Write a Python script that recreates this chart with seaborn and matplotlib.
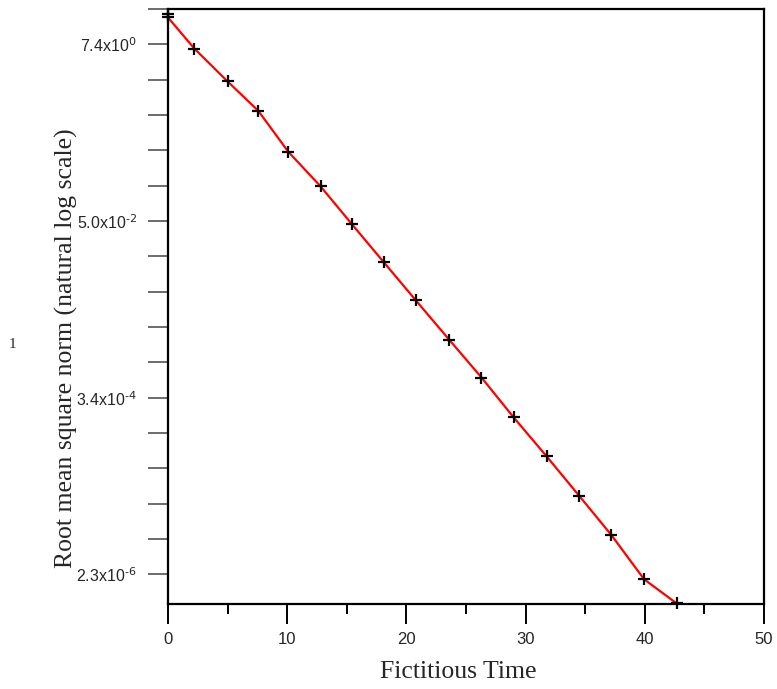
import numpy as np
import pandas as pd
import matplotlib
matplotlib.use("Agg")
import matplotlib.pyplot as plt
import seaborn as sns

# Data (y given as natural log of the norm)
time = [0.0, 0.0, 2.21, 5.0, 7.57, 10.09, 12.8, 15.4, 18.11, 20.8, 23.59,
        26.3, 29.0, 31.76, 34.5, 37.2, 39.94, 42.66]
ln_norm = [2.86, 2.76, 1.88, 0.95, 0.12, -1.04, -2.02, -3.08, -4.17, -5.25,
           -6.36, -7.43, -8.56, -9.66, -10.78, -11.89, -13.14, -13.82]
norm = list(np.exp(ln_norm))

ytick_powers = list(range(-13, 4))
ytick_labels = {2: r"7.4x10$^{\text{0}}$", -3: r"5.0x10$^{\text{-2}}$",
                -8: r"3.4x10$^{\text{-4}}$", -13: r"2.3x10$^{\text{-6}}$"}
xticks_major = [0, 10, 20, 30, 40, 50]
xticks_minor = [5, 15, 25, 35, 45]

sns.set_style("ticks")
plt.rcParams["font.family"] = ["Liberation Sans", "DejaVu Sans"]
plt.rcParams["mathtext.default"] = "regular"

W, H = 777, 689
fig = plt.figure(figsize=(W / 100, H / 100), dpi=100)
ax = fig.add_axes([168 / W, 1 - 604 / H, (764 - 168) / W, (604 - 9) / H])

df = pd.DataFrame({"t": time, "n": norm})
sns.lineplot(data=df, x="t", y="n", ax=ax, color="red", lw=1.6,
             estimator=None, sort=False, marker="+", markersize=9,
             markeredgecolor="black", markeredgewidth=1.6, zorder=3,
             clip_on=False)

ax.set_yscale("log", base=np.e)
ax.set_xlim(0, 50)
ax.set_ylim(np.exp(-13.84), np.exp(3.0))

ax.set_yticks([np.exp(k) for k in ytick_powers])
ax.set_yticklabels([ytick_labels.get(k, "") for k in ytick_powers])
ax.yaxis.set_minor_locator(matplotlib.ticker.NullLocator())
ax.set_xticks(xticks_major)
ax.set_xticks(xticks_minor, minor=True)

ax.tick_params(axis="y", which="major", direction="out", length=14.5,
               width=1.1, color="#444444", labelsize=11.5, pad=8)
ax.tick_params(axis="x", which="major", direction="out", length=14.5,
               width=1.4, color="black", labelsize=12, pad=6)
ax.tick_params(axis="x", which="minor", direction="out", length=7,
               width=1.4, color="black")

for s in ax.spines.values():
    s.set_visible(True)
    s.set_linewidth(1.6)
    s.set_color("black")

ax.set_xlabel("")
ax.set_ylabel("")

fig.text(458 / W, 1 - 672 / H, "Fictitious Time", ha="center", va="center",
         fontsize=18.5, family=["Liberation Serif", "DejaVu Serif"])
fig.text(66 / W, 1 - 348 / H, "Root mean square norm (natural log scale)",
         rotation=90, ha="center", va="center", fontsize=18.5,
         family=["Liberation Serif", "DejaVu Serif"])
fig.text(12 / W, 1 - 345 / H, "1", ha="center", va="center", fontsize=11,
         family=["Liberation Serif", "DejaVu Serif"])

fig.savefig("out.png", dpi=100, facecolor="white")
